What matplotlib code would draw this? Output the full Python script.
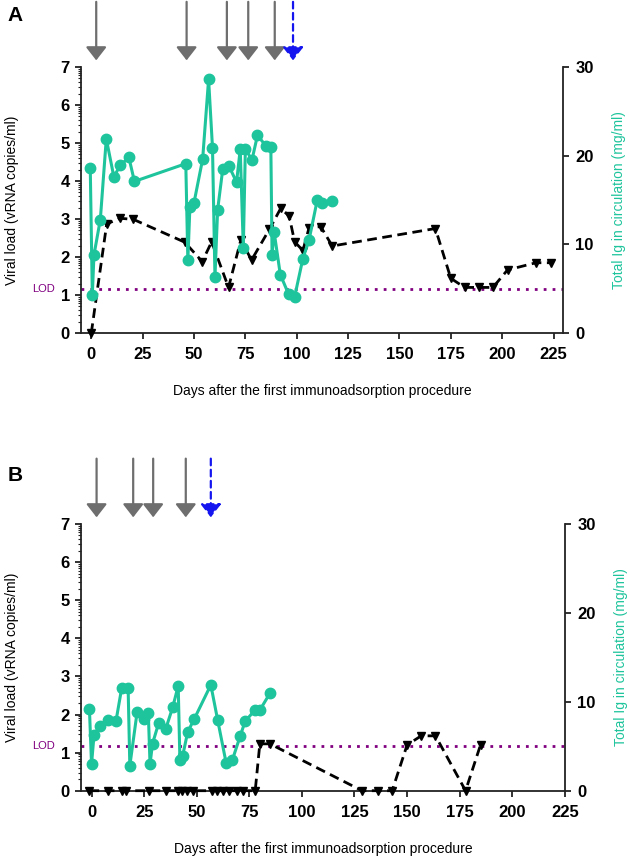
import numpy as np
import matplotlib
matplotlib.use('Agg')
import matplotlib.pyplot as plt
from matplotlib.transforms import blended_transform_factory

plt.rcParams['font.family'] = ['Liberation Sans', 'DejaVu Sans']

# Panel A - viral load (log10 vRNA copies/ml)
a_vl_days = [0, 7.5, 14, 20.5, 45.5, 54, 58.6, 66.8, 72.8, 78, 86.7, 92.2, 96.3, 99,
             103, 106, 111.7, 117.3, 167.5, 175, 181.7, 188.5, 195.5, 202.6, 216.5, 223.6]
a_vl = [0, 2.87, 3.02, 2.99, 2.39, 1.88, 2.4, 1.2, 2.45, 1.92, 2.73, 3.28, 3.08, 2.4,
        2.17, 2.77, 2.8, 2.29, 2.75, 1.44, 1.2, 1.2, 1.2, 1.66, 1.85, 1.85]

# Panel A - total Ig (mg/ml)
a_ig_days = [-0.5, 0.5, 1.3, 4.4, 7.3, 11, 14, 18.3, 21, 46, 47, 48, 50, 54.2, 57.1,
             59, 60.2, 61.5, 64, 67.1, 70.7, 72.5, 74, 75, 78.2, 80.9, 85, 87.4, 88,
             89, 92, 96, 99, 103, 106, 110, 112.5, 117]
a_ig = [18.6, 4.3, 8.8, 12.8, 21.9, 17.6, 18.9, 19.8, 17.1, 19.1, 8.2, 14.2, 14.7,
        19.6, 28.6, 20.9, 6.3, 13.9, 18.5, 18.8, 17.0, 20.7, 9.6, 20.8, 19.5, 22.3,
        21.1, 21.0, 8.8, 11.4, 6.6, 4.4, 4.1, 8.4, 10.5, 15.0, 14.7, 14.9]

a_arrows = [2.4, 46.4, 66, 76.4, 89.3]
a_dashed_arrow = 98.2

# Panel B - viral load
b_vl_days = [-1, 8, 14.3, 16.3, 27.4, 35.2, 41.2, 42.9, 45.2, 48.1, 57.1, 59.5, 62.4,
             65.5, 69.3, 72.2, 77.8, 80, 84.8, 128.6, 136, 142.9, 150, 156.7, 163.5,
             177.8, 184.9]
b_vl = [0, 0, 0, 0, 0, 0, 0, 0, 0, 0, 0, 0, 0, 0, 0, 0, 0, 1.23, 1.23, 0, 0, 0,
        1.2, 1.44, 1.44, 0, 1.2]

# Panel B - total Ig (mg/ml)
b_ig_days = [-1, 0, 1.2, 4, 8, 11.6, 14.3, 17.4, 18.2, 21.7, 24.9, 27, 27.8, 29, 31.9,
             35.2, 38.6, 41.2, 42, 43.3, 45.7, 48.9, 56.7, 60, 64, 67, 70.6, 73, 77.8,
             80.1, 84.9]
b_ig = [9.2, 3.0, 6.3, 7.3, 7.9, 7.8, 11.5, 11.5, 2.8, 8.9, 8.1, 8.7, 3.0, 5.3, 7.6,
        6.9, 9.4, 11.8, 3.5, 3.9, 6.6, 8.1, 11.9, 7.9, 3.1, 3.5, 6.1, 7.8, 9.1, 9.1, 11.0]

b_arrows = [2.4, 19.8, 29.3, 44.8]
b_dashed_arrow = 56.7

LOD = 1.17
GREEN = '#1EC49C'
PURPLE = '#800080'
SPINE = '#222222'


def draw_panel(fig, rect, xmax, vl_days, vl, ig_days, ig, arrows, dashed_arrow,
               letter, letter_y):
    ax = fig.add_axes(rect)
    ax2 = ax.twinx()

    ax.axhline(LOD, color=PURPLE, lw=2, ls=(0, (1, 2.2)), zorder=1)
    ax.plot(vl_days, vl, color='black', lw=2, ls=(0, (3.5, 2)), marker='v',
            ms=6, clip_on=False, zorder=3)
    ax2.plot(ig_days, ig, color=GREEN, lw=2.2, marker='o', ms=7.5, clip_on=False)

    ax.set_xlim(-5, xmax)
    ax.set_ylim(0, 7)
    ax2.set_ylim(0, 30)
    ax.set_xticks(np.arange(0, 226, 25))
    ax.set_yticks(range(8))
    minors = [k + np.log10(m) for k in range(7) for m in range(2, 10)]
    ax.set_yticks(minors, minor=True)
    ax2.set_yticks([0, 10, 20, 30])

    for a in (ax, ax2):
        a.spines['top'].set_visible(False)
        for s in a.spines.values():
            s.set_color(SPINE)
            s.set_linewidth(1.3)
    ax.spines['right'].set_visible(False)
    ax2.spines['left'].set_visible(False)
    ax2.spines['bottom'].set_visible(False)

    ax.tick_params(axis='both', which='major', direction='out', length=4, width=1.3,
                   color=SPINE, labelsize=12, pad=4)
    ax.tick_params(axis='x', pad=6)
    ax.tick_params(axis='y', which='minor', direction='out', length=2, width=0.8,
                   color=SPINE)
    ax2.tick_params(axis='y', direction='out', length=4, width=1.3, color=SPINE,
                    labelsize=12, pad=5)
    for lab in ax.get_xticklabels() + ax.get_yticklabels() + ax2.get_yticklabels():
        lab.set_fontweight('bold')

    ax.set_xlabel('Days after the first immunoadsorption procedure', fontsize=10,
                  labelpad=16)
    ax.set_ylabel('Viral load (vRNA copies/ml)', fontsize=10, labelpad=30)
    ax2.set_ylabel('Total Ig in circulation (mg/ml)', fontsize=10, color=GREEN,
                   labelpad=13)

    tr = blended_transform_factory(ax.transAxes, ax.transData)
    ax.text(-0.054, LOD, 'LOD', transform=tr, ha='right', va='center',
            fontsize=8, color=PURPLE)

    xt = ax.get_xaxis_transform()
    for d in arrows:
        ax.annotate('', xy=(d, 1.025), xytext=(d, 1.245), xycoords=xt,
                    textcoords=xt, annotation_clip=False,
                    arrowprops=dict(arrowstyle='-|>,head_length=0.45,head_width=0.35',
                                    color='#6E6E6E', lw=1.6, mutation_scale=18,
                                    shrinkA=0, shrinkB=0))
    ax.annotate('', xy=(dashed_arrow, 1.025), xytext=(dashed_arrow, 1.245),
                xycoords=xt, textcoords=xt, annotation_clip=False,
                arrowprops=dict(arrowstyle='-|>,head_length=0.45,head_width=0.35',
                                color='#1515F0', lw=1.6, ls=(0, (3, 2)),
                                mutation_scale=18, shrinkA=0, shrinkB=0))

    fig.text(0.012, letter_y, letter, fontsize=15, fontweight='bold', va='center')
    return ax


fig = plt.figure(figsize=(6.3, 8.59), dpi=100)
draw_panel(fig, [0.1286, 0.6123, 0.765, 0.3097], 229.6, a_vl_days, a_vl,
           a_ig_days, a_ig, a_arrows, a_dashed_arrow, 'A', 0.982)
draw_panel(fig, [0.1286, 0.0795, 0.768, 0.3105], 225, b_vl_days, b_vl,
           b_ig_days, b_ig, b_arrows, b_dashed_arrow, 'B', 0.447)

fig.savefig('out.png', dpi=100, facecolor='white')
